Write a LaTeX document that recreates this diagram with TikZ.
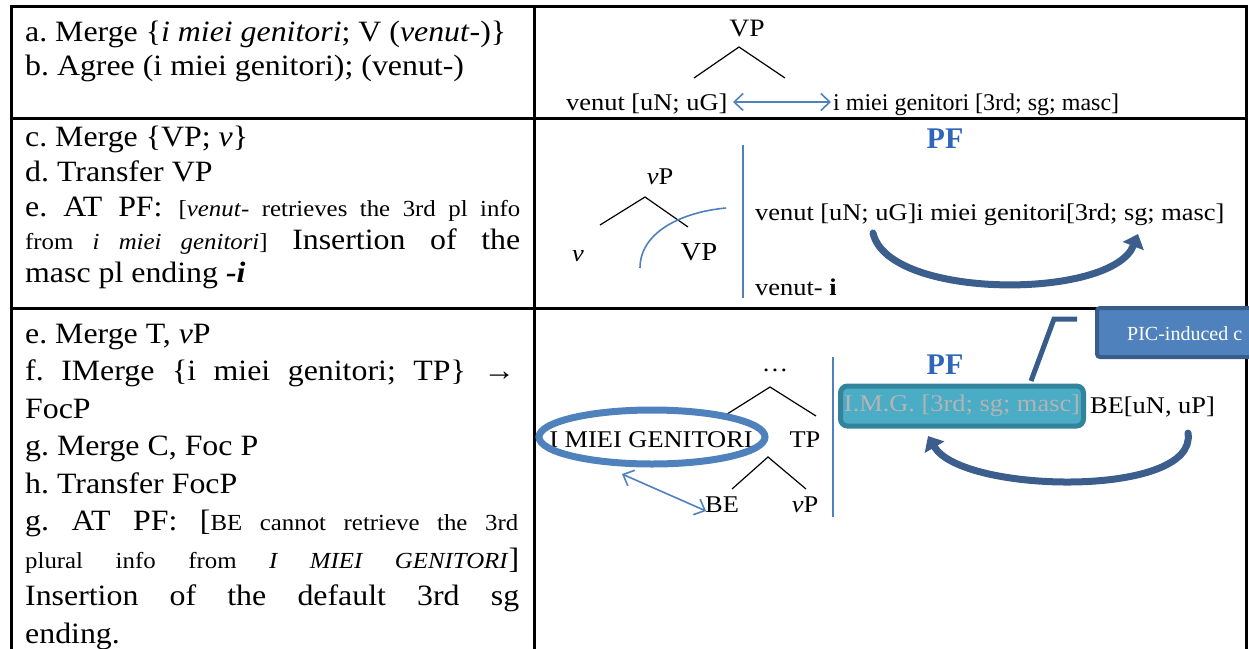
\documentclass[tikz,border=0pt]{standalone}
\usepackage{fontspec}
\setmainfont{Liberation Serif}
\newfontfamily\camb{Liberation Serif}[FakeStretch=1.08]
\newfontfamily\tms{Liberation Serif}[FakeStretch=1.1]
\usetikzlibrary{arrows.meta,shapes.geometric}
\definecolor{lblue}{HTML}{4F81BD}
\definecolor{darkarr}{HTML}{3B5E8C}
\definecolor{pfblue}{HTML}{2F66BC}
\definecolor{tealfill}{HTML}{4BACC6}
\definecolor{tealdark}{HTML}{31849B}
\definecolor{callborder}{HTML}{385D8A}
\definecolor{imggray}{HTML}{B4B4B4}
\newcommand{\sm}{\fontsize{23}{24}\selectfont}
\frenchspacing
\tikzset{
  lt/.style={anchor=base west, inner sep=0pt, font=\camb\fontsize{29.5}{31}\selectfont},
  rt/.style={inner sep=0pt, font=\tms\fontsize{24}{26}\selectfont},
  rtb/.style={rt, anchor=base west},
  border/.style={line width=3pt, black},
  branch/.style={line width=1.2pt, black},
  thinblue/.style={lblue, line width=1.6pt},
  dbl/.style={lblue, line width=1.6pt, {Straight Barb[length=9pt,width=17pt]}-{Straight Barb[length=9pt,width=17pt]}},
  bigarrow/.style={darkarr, line width=7pt, line cap=round, -{Triangle[length=13pt,width=22pt]}},
  pf/.style={inner sep=0pt, font=\bfseries\fontsize{30}{32}\selectfont, text=pfblue},
}
\begin{document}
\begin{tikzpicture}[x=1pt,y=-1pt]
\useasboundingbox (0,0) rectangle (1249,648);
\clip (0,0) rectangle (1249,648);
% table
\draw[border] (11,660) -- (11,6) -- (1246,6) -- (1246,660);
\draw[border] (534,6) -- (534,660);
\draw[border] (11,118) -- (1246,118);
\draw[border] (11,308) -- (1246,308);

% left column, row 1
\node[lt] (la) at (25,41) {a. Merge \{\textit{i miei genitori}; V (\textit{venut}-)\}};
\node[lt] (lb) at (25,75) {b. Agree (i miei genitori); (venut-)};
% row 2
\node[lt] (lc) at (25,146) {c. Merge \{VP; \textit{v}\}};
\node[lt] (ld) at (25,181) {d. Transfer VP};
\node[lt] (le) at (25,216) {\makebox[495pt][s]{e. AT PF: {\sm [\textit{venut}- retrieves the 3rd pl info}}};
\node[lt] (le2) at (25,249) {\makebox[495pt][s]{{\sm from \textit{i miei genitori}]} Insertion of the}};
\node[lt] (le3) at (25,282) {masc pl ending \textbf{\textit{-i}}};
% row 3
\node[lt] (lf) at (25,343) {e. Merge T, \textit{v}P};
\node[lt] (lg) at (25,380.5) {\makebox[490pt][s]{f. IMerge \{i miei genitori; TP\} →}};
\node[lt] (lh) at (25,418) {FocP};
\node[lt] (li) at (25,455.5) {g. Merge C, Foc P};
\node[lt] (lj) at (25,493) {h. Transfer FocP};
\node[lt] (lk) at (25,530.5) {\makebox[493pt][s]{g. AT PF: [{\sm BE cannot retrieve the 3rd}}};
\node[lt] (ll) at (25,568) {\makebox[494pt][s]{{\sm plural info from \textit{I MIEI GENITORI}}]}};
\node[lt] (lm) at (25,605.5) {\makebox[494pt][s]{Insertion of the default 3rd sg}};
\node[lt] (ln) at (25,643) {ending.};

% right column, row 1
\node[rt, font=\tms\fontsize{25}{27}\selectfont] (vp1) at (747,29) {VP};
\coordinate (t1) at (739,47);
\coordinate (t1l) at (694,78);
\coordinate (t1r) at (785,78);
\draw[branch] (t1l) -- (t1) -- (t1r);
\node[rtb] (ven1) at (566,110) {venut [uN; uG]};
\node[rtb, font=\fontsize{24}{26}\selectfont] (img1) at (833,110) {i miei genitori [3rd; sg; masc]};
\coordinate (a1s) at (733,102);
\coordinate (a1e) at (831,102);
\draw[dbl] (a1s) -- (a1e);

% row 2
\node[pf] (pf1) at (945,139) {PF};
\node[rt] (vp2) at (660,177) {\textit{v}P};
\coordinate (t2) at (645,197);
\coordinate (t2l) at (600,225);
\coordinate (t2r) at (688,227);
\draw[branch] (t2l) -- (t2) -- (t2r);
\node[rt] (v2) at (578,256) {\textit{v}};
\node[rt, font=\tms\fontsize{26}{28}\selectfont] (VP2) at (699,252) {VP};
\coordinate (arcs) at (640,268);
\coordinate (arce) at (726,208);
\draw[thinblue] (arcs) .. controls (640,232) and (682,212) .. (arce);
\coordinate (vl2t) at (743,145);
\coordinate (vl2b) at (743,298);
\draw[thinblue] (vl2t) -- (vl2b);
\node[rtb] (line2) at (755,220) {venut [uN; uG]i miei genitori[3rd; sg; masc]};
\node[rtb] (ven2) at (755,295) {venut- \textbf{i}};
\coordinate (c2s) at (873,233);
\coordinate (c2e) at (1138,234);
\draw[bigarrow] (c2s) .. controls (888,300) and (1112,300) .. (c2e);

% row 3
\node[rt] (dots) at (775,370) {\dots};
\coordinate (t3) at (770,387);
\coordinate (t3l) at (724,416);
\coordinate (t3r) at (816,416);
\draw[branch] (t3l) -- (t3) -- (t3r);
\node[rt] (img3) at (651,440) {I MIEI GENITORI};
\draw[lblue, line width=7pt] (652,437) ellipse [x radius=113, y radius=27];
\node[rt] (tp3) at (805,440) {TP};
\coordinate (t4) at (768,457);
\coordinate (t4l) at (732,489);
\coordinate (t4r) at (806,489);
\draw[branch] (t4l) -- (t4) -- (t4r);
\node[rt] (be3) at (722,505) {BE};
\node[rt] (vp3) at (805,505) {\textit{v}P};
\coordinate (a3s) at (622,474);
\coordinate (a3e) at (706,511);
\draw[dbl] (a3s) -- (a3e);
\coordinate (vl3t) at (833,357);
\coordinate (vl3b) at (833,517);
\draw[thinblue] (vl3t) -- (vl3b);
\node[pf] (pf2) at (945,365) {PF};
\node[draw=tealdark, fill=tealfill, line width=5pt, rounded corners=7pt,
      minimum width=243pt, minimum height=40pt, inner sep=0pt,
      font=\tms\fontsize{24}{26}\selectfont, text=imggray] (imgbox) at (962,406) {I.M.G. [3rd; sg; masc]};
\node[rtb] (be4) at (1090,413) {BE[uN, uP]};
\coordinate (c3s) at (1188,433);
\coordinate (c3e) at (928,436);
\draw[bigarrow] (c3s) .. controls (1198,498) and (962,494) .. (c3e);

% callout
\coordinate (cl1) at (1031,381);
\coordinate (cl2) at (1054,319);
\coordinate (cl3) at (1077,319);
\draw[callborder, line width=5pt] (cl1) -- (cl2) -- (cl3);
\draw[callborder, fill=lblue, line width=4pt, rounded corners=3pt] (1097,308) rectangle (1270,357);
\node[anchor=base west, inner sep=0pt, text=white, font=\fontsize{20}{22}\selectfont] (pic) at (1127,340) {PIC-induced c};
\end{tikzpicture}
\end{document}
